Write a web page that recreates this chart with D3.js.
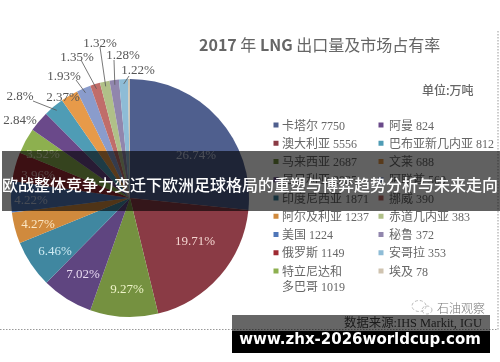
<!DOCTYPE html>
<html>
<head>
<meta charset="utf-8">
<script src="https://cdnjs.cloudflare.com/ajax/libs/d3/7.8.5/d3.min.js"></script>
<style>
html, body { margin: 0; padding: 0; background: #fff; overflow: hidden; }
svg { display: block; }
</style>
</head>
<body>
<div id="chart"></div>
<script>
const sliceNames = ["卡塔尔", "澳大利亚", "马来西亚", "尼日利亚", "印度尼西亚", "阿尔及利亚", "美国", "俄罗斯", "特立尼达和多巴哥", "阿曼", "巴布亚新几内亚", "文莱", "阿联酋", "挪威", "赤道几内亚", "秘鲁", "安哥拉", "埃及"]
const shares = [26.74, 19.71, 9.27, 7.02, 6.46, 4.27, 4.22, 3.96, 3.52, 2.84, 2.8, 2.37, 1.93, 1.35, 1.32, 1.28, 1.22, 0.27]
const shareLabels = ["26.74%", "19.71%", "9.27%", "7.02%", "6.46%", "4.27%", "4.22%", "3.96%", "3.52%", "2.84%", "2.8%", "2.37%", "1.93%", "1.35%", "1.32%", "1.28%", "1.22%", ""]
const sliceColors = ["#4f5f8e", "#8a3a44", "#74913f", "#5f4580", "#3f87a0", "#d08a3c", "#4f76b8", "#9e2a30", "#8db04f", "#6b4a8a", "#4f9cb5", "#e79a4a", "#8a9ccc", "#c06d6a", "#b0c088", "#9186ad", "#8ebcd6", "#cfc3b0"]

const legendLeft = [["卡塔尔 7750"], ["澳大利亚 5556"], ["马来西亚 2687"], ["尼日利亚 2035"], ["印度尼西亚 1871"], ["阿尔及利亚 1237"], ["美国 1224"], ["俄罗斯 1149"], ["特立尼达和", "多巴哥 1019"]]
const legendRight = [["阿曼 824"], ["巴布亚新几内亚 812"], ["文莱 688"], ["阿联酋 560"], ["挪威 390"], ["赤道几内亚 383"], ["秘鲁 372"], ["安哥拉 353"], ["埃及 78"]]
const leftColors = sliceColors.slice(0, 9)
const rightColors = sliceColors.slice(9, 10).concat(sliceColors.slice(10, 18))

const width = 500
const height = 362
const serif = "'Liberation Serif', 'Noto Sans CJK SC', serif"
const cjk = "'Noto Sans CJK SC', sans-serif"

const svg = d3.select("#chart").append("svg")
    .attr("width", width)
    .attr("height", height)

// soft look of the scanned picture
const defs = svg.append("defs")
defs.append("filter").attr("id", "soft")
    .append("feGaussianBlur").attr("stdDeviation", 0.45)

const cx = 130
const cy = 198
const radius = 119

const pie = d3.pie().sort(null).value(d => d)
const arc = d3.arc().innerRadius(0).outerRadius(radius)
const arcs = pie(shares)

const chart = svg.append("g").attr("filter", "url(#soft)")
const pieG = chart.append("g").attr("transform", `translate(${cx},${cy})`)

pieG.selectAll("path")
    .data(arcs)
    .join("path")
    .attr("d", arc)
    .attr("fill", (d, i) => sliceColors[i])

// label centres relative to the pie centre
const labelDx = [66, 65, -3, -47, -75, -92, -99, -92, -87, -110, -110, -67, -66, -53, -30, -7, 8]
const labelDy = [-44, 42, 90, 75, 52, 25, 1, -24, -45, -79, -103, -102, -123, -142, -156, -144, -129]
const labelColors = ["#c3cbe2", "#f3d5d0", "#eef3c8", "#e6d8ef", "#cfeaf2", "#fbe6c4", "#b7c6e0", "#e3b3b3", "#dbe8b4", "#555", "#555", "#555", "#555", "#555", "#555", "#555", "#555"]

// only some of the small slices have a leader line
const leaderStart = [null, null, null, null, null, null, null, null, null, null, [-97, -97], null, [-54, -118], [-49, -138], [-30, -151], [-16, -138], [-1, -122]]
const leaderArc = d3.arc().innerRadius(radius * 0.96).outerRadius(radius * 0.96)
const leaders = arcs.map((d, i) => ({ arc: d, start: leaderStart[i] })).filter(d => d.start)

pieG.selectAll("line")
    .data(leaders)
    .join("line")
    .attr("x1", d => d.start[0])
    .attr("y1", d => d.start[1])
    .attr("x2", d => leaderArc.centroid(d.arc)[0])
    .attr("y2", d => leaderArc.centroid(d.arc)[1])
    .attr("stroke", "#555")
    .attr("stroke-width", 0.8)

pieG.selectAll("text")
    .data(arcs.slice(0, 17))
    .join("text")
    .attr("x", (d, i) => labelDx[i])
    .attr("y", (d, i) => labelDy[i])
    .attr("text-anchor", "middle")
    .attr("dy", "0.35em")
    .attr("font-family", serif)
    .attr("font-size", 13)
    .attr("fill", (d, i) => labelColors[i])
    .text((d, i) => shareLabels[i])

const title = chart.append("text")
    .attr("x", 199)
    .attr("y", 51)
    .attr("font-family", cjk)
    .attr("font-size", 16)
    .attr("fill", "#666")
title.append("tspan").attr("font-weight", 700).text("2017")
title.append("tspan").text(" 年 ")
title.append("tspan").attr("font-weight", 700).text("LNG")
title.append("tspan").text(" 出口量及市场占有率")

chart.append("text")
    .attr("x", 422)
    .attr("y", 95)
    .attr("font-family", cjk)
    .attr("font-size", 12)
    .attr("font-weight", 500)
    .attr("fill", "#666")
    .text("单位:万吨")

const rowScale = d3.scalePoint().domain(d3.range(9)).range([125, 271])

function drawLegend(rows, colors, x, markerX) {
    const row = chart.append("g").selectAll("g").data(rows).join("g")
        .attr("transform", (d, i) => `translate(${x},${rowScale(i)})`)
    row.append("rect")
        .attr("x", markerX).attr("y", -2.5)
        .attr("width", 5).attr("height", 5)
        .attr("fill", (d, i) => colors[i])
    row.selectAll("text").data(d => d).join("text")
        .attr("y", (d, i) => 4.5 + i * 15)
        .attr("font-family", serif)
        .attr("font-size", 12)
        .attr("fill", "#666")
        .text(d => d)
}
drawLegend(legendLeft, leftColors, 282, -8.5)
drawLegend(legendRight, rightColors, 389, -10.5)

chart.append("text")
    .attr("x", 344)
    .attr("y", 327)
    .attr("font-family", serif)
    .attr("font-size", 12.4)
    .attr("fill", "#444")
    .text("数据来源:IHS Markit, IGU")

chart.append("text")
    .attr("x", 437)
    .attr("y", 313)
    .attr("font-family", cjk)
    .attr("font-size", 12)
    .attr("font-weight", 300)
    .attr("fill", "#777")
    .text("石油观察")

// small wechat style logo next to the watermark
chart.selectAll("ellipse")
    .data([[419, 306, 7, 5.5], [427, 310, 5, 4]])
    .join("ellipse")
    .attr("cx", d => d[0])
    .attr("cy", d => d[1])
    .attr("rx", d => d[2])
    .attr("ry", d => d[3])
    .attr("fill", "none")
    .attr("stroke", "#bbb")
    .attr("stroke-dasharray", "3,2")

// dotted frame of the original picture
chart.append("path")
    .attr("d", "M0,329.5H498V30")
    .attr("fill", "none")
    .attr("stroke", "#999")
    .attr("stroke-dasharray", "1.5,1.5")

svg.append("rect")
    .attr("x", 2).attr("y", 151)
    .attr("width", 498).attr("height", 60)
    .attr("fill", "#000").attr("fill-opacity", 0.62)

svg.append("text")
    .attr("x", 250)
    .attr("y", 191)
    .attr("text-anchor", "middle")
    .attr("font-family", cjk)
    .attr("font-size", 16)
    .attr("font-weight", 500)
    .attr("fill", "#fff")
    .text("欧战整体竞争力变迁下欧洲足球格局的重塑与博弈趋势分析与未来走向")

svg.append("rect")
    .attr("x", 232).attr("y", 315)
    .attr("width", 258).attr("height", 16)
    .attr("fill", "#000").attr("fill-opacity", 0.6)

svg.append("rect")
    .attr("x", 232).attr("y", 331)
    .attr("width", 258).attr("height", 22)
    .attr("fill", "#000")

svg.append("text")
    .attr("x", 360)
    .attr("y", 343.5)
    .attr("text-anchor", "middle")
    .attr("font-family", "'DejaVu Sans', sans-serif")
    .attr("font-size", 15)
    .attr("font-weight", 700)
    .attr("fill", "#fff")
    .text("www.zhx-2026worldcup.com")
</script>
</body>
</html>
